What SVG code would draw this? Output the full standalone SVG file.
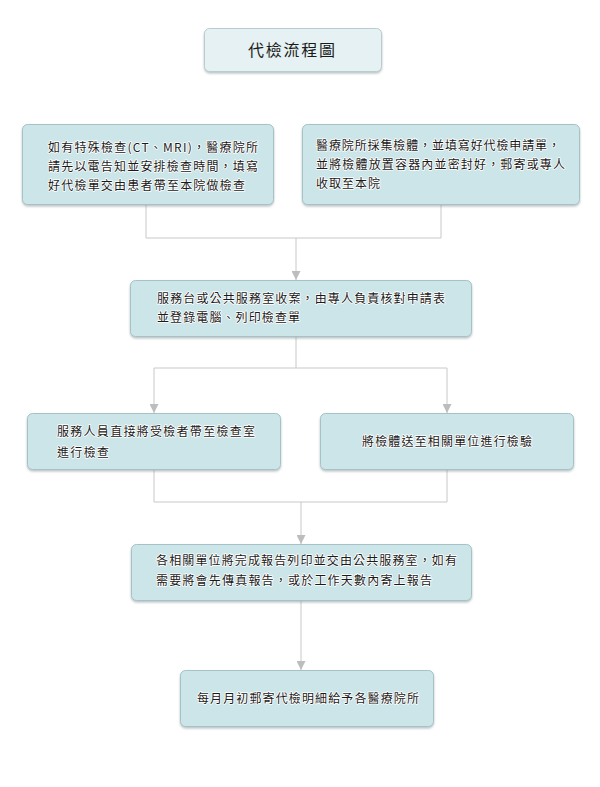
<svg xmlns="http://www.w3.org/2000/svg" width="600" height="787" viewBox="0 0 600 787">
<defs>
<filter id="sh" x="-5%" y="-10%" width="110%" height="130%">
<feDropShadow dx="0" dy="1.5" stdDeviation="1.2" flood-color="#7f8f92" flood-opacity="0.55"/>
</filter>
<marker id="ah" viewBox="0 0 10 10" refX="10" refY="5" markerWidth="9" markerHeight="9" markerUnits="userSpaceOnUse" orient="auto">
<path d="M0,0 L10,5 L0,10 Z" fill="#bdbdbd"/>
</marker>
<style>
.box{fill:#cce5e8;stroke:#a7c2c6;stroke-width:1;filter:url(#sh)}
.ttl{fill:#e5f1f2;stroke:#b9cdd0;stroke-width:1;filter:url(#sh)}
.t{font-family:"Noto Sans CJK TC","Noto Sans CJK SC",sans-serif;font-size:12px;fill:#1a1a1a;stroke:#ffffff;stroke-width:1.6;paint-order:stroke;stroke-linejoin:round}
.tt{font-family:"Noto Sans CJK TC","Noto Sans CJK SC",sans-serif;font-size:16px;fill:#1a1a1a}
.c{fill:none;stroke:#c8c8c8;stroke-width:1}
</style>
</defs>
<rect width="600" height="787" fill="#ffffff"/>
<g id="connectors">
<path class="c" d="M146,205 V238 H441 V205"/>
<path class="c" d="M296,238 V280" marker-end="url(#ah)"/>
<path class="c" d="M296,337 V368 H154 V413" marker-end="url(#ah)"/>
<path class="c" d="M296,368 H447 V413" marker-end="url(#ah)"/>
<path class="c" d="M154,470 V502 H447 V470"/>
<path class="c" d="M301,502 V544" marker-end="url(#ah)"/>
<path class="c" d="M301,601 V670" marker-end="url(#ah)"/>
</g>
<g id="title">
<rect class="ttl" x="204.5" y="28.5" width="177" height="43" rx="5"/>
<text class="tt" x="248" y="56" textLength="87" lengthAdjust="spacing">代檢流程圖</text>
</g>
<g id="nodeA">
<rect class="box" x="22.5" y="124.5" width="251" height="80" rx="5"/>
<text class="t" x="48" y="152" textLength="210" lengthAdjust="spacing">如有特殊檢查(CT、MRI)，醫療院所</text>
<text class="t" x="48" y="171" textLength="210" lengthAdjust="spacing">請先以電告知並安排檢查時間，填寫</text>
<text class="t" x="48" y="190" textLength="197" lengthAdjust="spacing">好代檢單交由患者帶至本院做檢查</text>
</g>
<g id="nodeB">
<rect class="box" x="302.5" y="124.5" width="277" height="80" rx="5"/>
<text class="t" x="316" y="150" textLength="244" lengthAdjust="spacing">醫療院所採集檢體，並填寫好代檢申請單，</text>
<text class="t" x="316" y="169" textLength="249" lengthAdjust="spacing">並將檢體放置容器內並密封好，郵寄或專人</text>
<text class="t" x="316" y="188" textLength="64" lengthAdjust="spacing">收取至本院</text>
</g>
<g id="nodeC">
<rect class="box" x="130.5" y="280.5" width="341" height="56" rx="5"/>
<text class="t" x="157" y="303" textLength="288" lengthAdjust="spacing">服務台或公共服務室收案，由專人負責核對申請表</text>
<text class="t" x="157" y="322" textLength="143" lengthAdjust="spacing">並登錄電腦、列印檢查單</text>
</g>
<g id="nodeD">
<rect class="box" x="27.5" y="413.5" width="253" height="56" rx="5"/>
<text class="t" x="57" y="436" textLength="198" lengthAdjust="spacing">服務人員直接將受檢者帶至檢查室</text>
<text class="t" x="57" y="457" textLength="52" lengthAdjust="spacing">進行檢查</text>
</g>
<g id="nodeE">
<rect class="box" x="320.5" y="413.5" width="253" height="56" rx="5"/>
<text class="t" x="362" y="446" textLength="170" lengthAdjust="spacing">將檢體送至相關單位進行檢驗</text>
</g>
<g id="nodeF">
<rect class="box" x="131.5" y="544.5" width="340" height="56" rx="5"/>
<text class="t" x="156" y="565" textLength="301" lengthAdjust="spacing">各相關單位將完成報告列印並交由公共服務室，如有</text>
<text class="t" x="156" y="585" textLength="276" lengthAdjust="spacing">需要將會先傳真報告，或於工作天數內寄上報告</text>
</g>
<g id="nodeG">
<rect class="box" x="180.5" y="670.5" width="253" height="56" rx="5"/>
<text class="t" x="197" y="703" textLength="222" lengthAdjust="spacing">每月月初郵寄代檢明細給予各醫療院所</text>
</g>
</svg>
